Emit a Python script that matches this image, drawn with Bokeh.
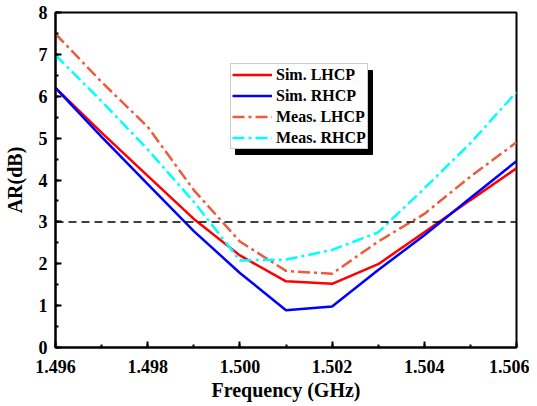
from bokeh.plotting import figure
from bokeh.models import (Range1d, Span, Legend, LegendItem, PrintfTickFormatter,
                          FixedTicker, BoxAnnotation)
from bokeh.embed import file_html
from bokeh.resources import INLINE

# ---- data ----
freq = [1.496, 1.497, 1.498, 1.499, 1.500, 1.501, 1.502, 1.503, 1.504, 1.505, 1.506]
sim_lhcp = [6.2, 5.13, 4.1, 3.07, 2.2, 1.58, 1.52, 1.99, 2.75, 3.52, 4.28]
sim_rhcp = [6.2, 5.03, 3.9, 2.78, 1.78, 0.89, 0.98, 1.85, 2.68, 3.57, 4.45]
meas_lhcp = [7.49, 6.34, 5.27, 3.76, 2.53, 1.83, 1.76, 2.53, 3.19, 4.08, 4.9]
meas_rhcp = [6.98, 5.88, 4.73, 3.48, 2.08, 2.1, 2.33, 2.75, 3.8, 4.88, 6.1]
series_names = ["Sim. LHCP", "Sim. RHCP", "Meas. LHCP", "Meas. RHCP"]
threshold = 3
x_ticks = [1.496, 1.498, 1.500, 1.502, 1.504, 1.506]
y_ticks = [0, 1, 2, 3, 4, 5, 6, 7, 8]

FONT = "Liberation Serif"

p = figure(width=529, height=404, output_backend="svg", toolbar_location=None,
           x_range=Range1d(1.496, 1.506), y_range=Range1d(0, 8),
           min_border_left=49, min_border_right=13, min_border_top=12, min_border_bottom=57)
p.background_fill_color = "white"
p.border_fill_color = "white"
p.grid.visible = False
p.outline_line_color = "black"
p.outline_line_width = 2

colors = ["#ff0000", "#0000ff", "#ec5b3c", "#00ffff"]
dashes = ["solid", "solid", "12 4 3 4", "12 4 3 4"]
series = [sim_lhcp, sim_rhcp, meas_lhcp, meas_rhcp]
renderers = []
for ys, c, d in zip(series, colors, dashes):
    r = p.line(freq, ys, line_color=c, line_width=2.5, line_dash=d)
    renderers.append(r)

p.add_layout(Span(location=threshold, dimension="width", line_color="black",
                  line_width=1.5, line_dash="8 5"))

for ax in (p.xaxis[0], p.yaxis[0]):
    ax.axis_line_width = 2
    ax.axis_line_color = "black"
    ax.major_tick_in = 6
    ax.major_tick_out = 0
    ax.minor_tick_in = 3
    ax.minor_tick_out = 0
    ax.major_tick_line_width = 2
    ax.minor_tick_line_width = 2
    ax.major_label_text_font = FONT
    ax.major_label_text_font_style = "bold"
    ax.major_label_text_font_size = "18px"
    ax.major_label_text_color = "black"
    ax.axis_label_text_font = FONT
    ax.axis_label_text_font_style = "bold"
    ax.axis_label_text_font_size = "20px"
    ax.axis_label_text_color = "black"

p.xaxis[0].ticker = FixedTicker(ticks=x_ticks,
                                minor_ticks=[round(x_ticks[0] + 0.001 * i, 3) for i in range(11)])
p.xaxis[0].formatter = PrintfTickFormatter(format="%.3f")
p.xaxis[0].axis_label = "Frequency (GHz)"
p.xaxis[0].major_label_standoff = 12
p.xaxis[0].axis_label_standoff = 3

p.yaxis[0].ticker = FixedTicker(ticks=y_ticks, minor_ticks=[i * 0.5 for i in range(17)])
p.yaxis[0].axis_label = "AR(dB)"
p.yaxis[0].major_label_standoff = 8
p.yaxis[0].axis_label_standoff = 10

# legend placement (screen px from the frame's bottom-left corner)
LX, LY, LW, LH, SH = 175, 198, 137, 84, 5
p.add_layout(BoxAnnotation(left=LX + SH, right=LX + LW + SH, bottom=LY - SH, top=LY + LH - SH,
                           left_units="screen", right_units="screen",
                           top_units="screen", bottom_units="screen",
                           fill_color="black", fill_alpha=1, line_color="black", line_alpha=1))

items = [LegendItem(label=n, renderers=[r]) for n, r in zip(series_names, renderers)]
lg = Legend(items=items, location=(LX, LY))
lg.label_text_font = FONT
lg.label_text_font_style = "bold"
lg.label_text_font_size = "16px"
lg.label_text_color = "black"
lg.glyph_width = 40
lg.glyph_height = 19
lg.label_height = 19
lg.label_standoff = 4
lg.padding = 1
lg.spacing = 2
lg.margin = 0
lg.border_line_color = "#999999"
lg.border_line_width = 1
lg.background_fill_color = "white"
lg.background_fill_alpha = 1
p.add_layout(lg, "center")

open("out.html", "w").write(file_html(p, INLINE))
